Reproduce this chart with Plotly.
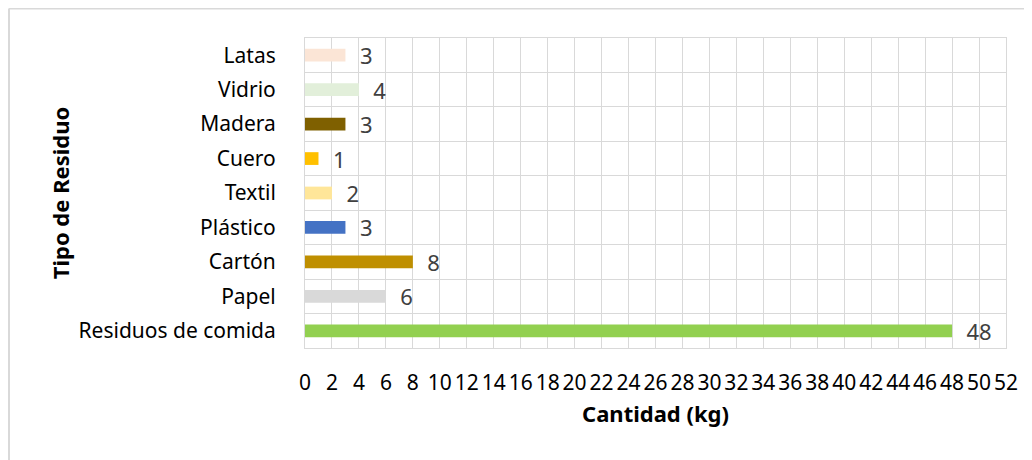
import plotly.graph_objects as go

categories = ["Residuos de comida", "Papel", "Cartón", "Plástico", "Textil",
              "Cuero", "Madera", "Vidrio", "Latas"]
values = [48, 6, 8, 3, 2, 1, 3, 4, 3]
colors = ["#92D050", "#D9D9D9", "#BF8F00", "#4472C4", "#FFE699",
          "#FFC000", "#7F6000", "#E2EFDA", "#FBE5D6"]
x_ticks = list(range(0, 53, 2))
positions = list(range(len(categories)))

FONT = "Noto Sans"
# page body has an 8px margin, so the figure is 8px smaller than the window
W, H = 1024, 452
ML, MR, MT, MB = 297, 26, 30, 112
pw, ph = W - ML - MR, H - MT - MB

fig = go.Figure()
fig.add_bar(
    x=values, y=positions, orientation="h",
    marker=dict(color=colors, line=dict(width=0)),
    width=0.37,
    text=values, texttemplate="  %{x}", textposition="outside",
    constraintext="none", cliponaxis=False,
    textfont=dict(family=FONT, size=22, color="#404040"),
    hoverinfo="skip",
)

grid = "#D9D9D9"
fig.update_layout(
    width=W, height=H,
    margin=dict(l=ML, r=MR, t=MT, b=MB),
    paper_bgcolor="white", plot_bgcolor="white",
    showlegend=False,
    font=dict(family=FONT, color="#000000"),
    xaxis=dict(
        range=[0, 52], tickvals=x_ticks, tickangle=0,
        showgrid=True, gridcolor=grid, gridwidth=1,
        zeroline=False, showline=True, mirror=True, linecolor=grid, linewidth=1,
        ticks="", ticklabelstandoff=16,
        tickfont=dict(family=FONT, size=21, color="#000000"),
        title=dict(text="<b>Cantidad (kg)</b>", standoff=11,
                   font=dict(family=FONT, size=22, color="#000000")),
        fixedrange=True,
    ),
    yaxis=dict(
        range=[-0.5, len(categories) - 0.5],
        tickvals=positions, ticktext=categories,
        showgrid=False, zeroline=False,
        showline=True, mirror=True, linecolor=grid, linewidth=1,
        minor=dict(tick0=-0.5, dtick=1, showgrid=True, gridcolor=grid, gridwidth=1),
        ticks="", ticklabelstandoff=24,
        tickfont=dict(family=FONT, size=21, color="#000000"),
        title=dict(text="<b>Tipo de Residuo</b>", standoff=2,
                   font=dict(family=FONT, size=22, color="#000000")),
        fixedrange=True,
    ),
)

# outer chart frame (top and left edges visible)
fx0 = (1 - ML) / pw
fy1 = (H - MB - 0.5) / ph
fig.add_shape(type="line", xref="paper", yref="paper", x0=fx0, x1=(W - ML + 5) / pw,
              y0=fy1, y1=fy1, line=dict(color=grid, width=2))
fig.add_shape(type="line", xref="paper", yref="paper", x0=fx0, x1=fx0,
              y0=fy1, y1=-(MB + 5) / ph, line=dict(color=grid, width=2))

fig.write_html("out.html")
